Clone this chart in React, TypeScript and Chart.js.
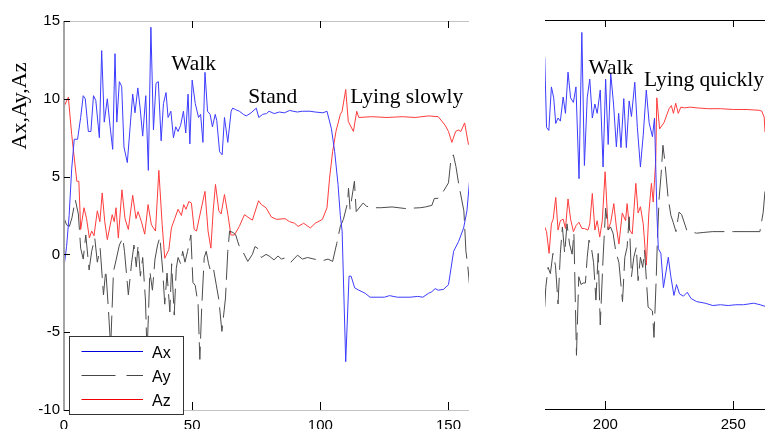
import React, { useEffect, useRef } from 'react';
import { Chart, registerables } from 'chart.js';

Chart.register(...registerables);

// ---------- tick labels ----------
const yTicks = [-10, -5, 0, 5, 10, 15];
const leftXTicks = [0, 50, 100, 150];
const rightXTicks = [200, 250];
const leftXRange = [0, 158];
const rightXRange = [176.4, 262.4];
const yRange = [-10, 15];

// ---------- series (sample index, value) : left panel ----------
const leftAx: [number, number][] = [
  [0, -0.8], [1, 0.5], [2, 2.5], [3, 5.5], [4, 7.4], [5.3, 7.4], [6.5, 8.8], [7.5, 10.2], [8.3, 10.0], [9.5, 7.9],
  [10.5, 7.9], [11.5, 10.2], [12.4, 9.9], [13.8, 7.5], [14.7, 13.1], [15.7, 8.5], [16.9, 10.0], [18, 8.2], [19, 6.75],
  [19.9, 12.9], [20.6, 8.5], [21.6, 11.1], [22.5, 10.8], [23.4, 6.9], [24.7, 5.9], [25.8, 8.2], [26.8, 10.3], [27.7, 9.1],
  [28.8, 10.7], [29.7, 9.4], [30.7, 7.6], [31.9, 10.2], [32.9, 5.4], [33.9, 14.6], [34.9, 8.0], [35.9, 11.0], [36.8, 11.1],
  [37.9, 7.3], [38.8, 9.7], [39.8, 10.4], [40.6, 8.8], [41.7, 9.2], [42.7, 7.5], [43.6, 8.2], [44.5, 7.9], [45.5, 8.3],
  [46.6, 9.2], [47.5, 7.8], [48.4, 10.3], [49.1, 7.1], [50, 11.2], [51.2, 9.7], [52.5, 8.8], [53.3, 9.0], [54.2, 7.2],
  [55, 11.7], [56, 9.2], [57, 9.0], [57.9, 8.2], [59, 9.0], [59.6, 8.6], [60.7, 6.6], [61.7, 6.4], [62.6, 8.8], [63.9, 7.2],
  [65.2, 9.2], [65.8, 9.4], [67, 9.3], [68.4, 9.2], [70, 9.0], [71.1, 8.9], [73, 9.1], [75, 9.4], [76, 8.8], [77.5, 9.0],
  [79, 9.05], [80, 9.2], [82, 9.05], [84, 9.15], [86, 9.1], [88, 9.25], [91, 9.15], [93, 9.2], [96, 9.2], [98, 9.15],
  [101, 9.1], [102.6, 9.2], [104.3, 8.1], [105.6, 6.6], [106.9, 4.5], [107.8, 2.5], [108.5, 1.5], [109.9, -6.9],
  [111.2, -1.4], [112, -1.4], [113.4, -2.15], [115, -2.3], [116.3, -2.4], [117.5, -2.5], [119.4, -2.75], [125, -2.75],
  [127, -2.65], [130, -2.75], [135, -2.75], [138, -2.7], [140, -2.75], [142.2, -2.5], [143.5, -2.4], [144.8, -2.2],
  [146, -2.3], [148, -2.25], [150, -1.95], [152, 0.2], [154, 0.85], [155.9, 1.7], [157.2, 2.8], [158.2, 4.7],
];

const leftAy: [number, number][] = [
  [0, 2.35], [1, 1.9], [2.1, 1.8], [3.1, 2.35], [4.4, 3.5], [5.6, 2.6], [6.5, 0.4], [7.5, -0.3], [8.5, 1.25], [9.8, -1.0],
  [10.8, 0.2], [12, 1.05], [13, -0.5], [14.1, 0.4], [15.4, -2.6], [16.3, -1.0], [17.3, -3.45], [18.2, -6.0], [19.3, -1.1],
  [20.4, -0.3], [21.6, 0.6], [22.9, 1.05], [23.6, 0.2], [25.1, -2.6], [26.4, -0.5], [27.3, 0.6], [28.2, -0.8], [28.9, 0.6],
  [29.8, -1.4], [30.7, -0.2], [31.8, -3.0], [32.4, -6.5], [33.5, -1.1], [34.5, -2.3], [35.5, -0.3], [36.5, 0.6],
  [37.4, 1.1], [38.5, -1.0], [39.3, -3.2], [40.2, -1.2], [41.3, -3.7], [42, -0.6], [43, -3.9], [43.8, -0.9], [44.5, -0.2],
  [45.5, -0.6], [46.3, 0.2], [47.2, -0.5], [48.2, 0.2], [49.5, 1.25], [50.3, -1.8], [51.2, -2.0], [52.3, -3.2],
  [53, -6.75], [53.7, -3.5], [54.7, -0.2], [55.5, 0.2], [56.4, -0.6], [57.4, -1.2], [58.4, -1.0], [59.4, -1.95],
  [60.4, -2.9], [61.6, -4.95], [63, -2.8], [63.9, 0.2], [64.6, 1.5], [66, 1.4], [67, 1.25], [68.2, 0.6], [70, 0.1],
  [71.7, -0.45], [73.5, 0.0], [74.5, 0.5], [75.5, 0.4], [77, -0.2], [78.8, 0.0], [80, -0.1], [81.9, -0.35], [83.5, -0.1],
  [84.8, -0.3], [86.7, -0.2], [88.5, -0.5], [91.1, -0.05], [93, -0.3], [95, -0.2], [97.5, -0.3], [101, -0.4], [103, -0.3],
  [104.8, -0.45], [106.4, 0.7], [107.8, 1.8], [109, 2.25], [110.6, 3.3], [111, 4.25], [111.6, 2.9], [113.3, 4.7],
  [114, 2.75], [116.7, 3.3], [118, 3.1], [120, 3.0], [123.6, 3.0], [128, 3.05], [133, 2.95], [139, 3.0], [141, 3.05],
  [143.5, 3.15], [144.5, 3.6], [145.9, 3.6], [148, 4.05], [150, 4.6], [151, 6.2], [151.9, 6.4], [152.9, 5.65], [154, 4.5],
  [156, 2.8], [156.8, 0.2], [157.5, -0.7], [158.2, -1.95],
];

const leftAz: [number, number][] = [
  [0, 9.5], [1.7, 10.1], [3, 7.7], [5, 4.7], [5.8, 4.7], [6.5, 1.6], [7.8, 3.0], [8.8, 2.3], [9.9, 1.05], [10.8, 1.5],
  [11.7, 1.2], [13, 2.8], [14, 2.1], [14.9, 3.95], [15.9, 2.1], [16.9, 0.95], [18.8, 2.55], [19.6, 2.1], [20.3, 3.0],
  [21.2, 1.05], [22.6, 4.15], [23.8, 2.3], [25.1, 1.6], [26.8, 3.8], [28.1, 2.3], [28.9, 2.75], [30.2, 2.1], [31.5, 1.3],
  [32.8, 3.2], [34.1, 1.9], [35.7, 1.5], [37, 5.4], [38.3, 1.9], [39.3, -0.25], [40.9, 0.3], [41.9, 1.7], [43.2, 2.3],
  [44.5, 2.9], [45.8, 2.5], [46.7, 3.2], [47.6, 2.9], [48.7, 3.4], [49.7, 3.3], [50.8, 1.6], [51.7, 1.5], [53.1, 2.6],
  [55, 4.05], [56.2, 1.5], [57.3, 0.4], [58.2, 2.8], [59.1, 4.5], [60.4, 2.8], [61.3, 2.6], [62.6, 3.85], [64, 2.5],
  [65.1, 1.25], [66.5, 1.25], [68.4, 1.8], [70.4, 2.55], [73.5, 2.2], [75.9, 3.45], [77, 3.2], [78.8, 3.0], [80.9, 2.4],
  [83, 2.25], [86.2, 2.3], [88, 2.1], [90, 2.0], [91.3, 1.8], [93.5, 2.0], [96.1, 1.7], [98, 2.0], [100.8, 2.25],
  [102.6, 3.0], [103.6, 4.9], [104.8, 6.6], [106.1, 7.9], [107.8, 9.0], [108.5, 9.2], [109.9, 10.6], [110.9, 8.55],
  [112.9, 7.9], [114.2, 9.2], [115, 8.8], [120, 8.85], [126, 8.8], [132, 8.85], [137, 8.8], [142.2, 8.9], [146, 8.85],
  [148.7, 8.3], [150, 7.9], [151.3, 7.2], [152.8, 7.9], [153.8, 8.0], [154.8, 7.9], [156.3, 8.45], [157.8, 7.05],
];

// ---------- series : right panel ----------
const rightAx: [number, number][] = [
  [176.3, 12.6], [177, 8.1], [177.9, 7.9], [178.9, 10.7], [179.8, 10.0], [180.6, 8.35], [181.5, 8.7], [182.4, 8.5],
  [183.5, 10.05], [184.4, 9.0], [185.4, 11.65], [186.4, 10.0], [187.5, 9.7], [188.5, 10.7], [189.7, 4.8], [190.8, 14.2],
  [191.8, 5.65], [192.9, 10.0], [193.9, 11.2], [194.9, 8.7], [195.9, 9.6], [196.8, 9.0], [198, 10.5], [199.1, 5.55],
  [200.1, 11.2], [201.1, 7.0], [202.1, 11.55], [203.2, 9.6], [204.3, 6.85], [205.2, 9.0], [206.1, 6.8], [207.2, 9.95],
  [208.2, 6.8], [209.3, 9.8], [210.2, 8.8], [211.5, 11.0], [212.5, 8.1], [213.7, 5.55], [214.8, 7.6], [216, 10.5],
  [217.1, 8.4], [218.4, 7.5], [219.2, 8.7], [220.2, 2.35], [220.7, 0.3], [221.7, 0.0], [222.7, -2.2], [224.6, -0.25],
  [225.6, -1.5], [226.8, -2.7], [227.8, -2.0], [229, -2.6], [230.5, -2.75], [232, -2.5], [233.5, -2.9], [235.7, -3.1],
  [239, -3.2], [242, -3.35], [245, -3.3], [248, -3.35], [251, -3.3], [254, -3.3], [258, -3.2], [260.5, -3.3],
  [262.4, -3.4],
];

const rightAy: [number, number][] = [
  [176.3, -3.45], [176.7, -2.2], [177.6, -0.9], [178.5, -1.3], [179.5, 0.0], [180.5, -0.8], [181.5, -3.25], [182.4, 0.0],
  [183.2, 1.7], [184.1, 0.0], [185, 1.9], [186, 0.6], [187, -0.05], [187.7, 1.3], [188.7, -6.55], [189.6, -1.5],
  [190.5, -2.0], [191.3, -1.9], [192.2, -1.9], [192.9, -0.25], [193.6, 0.85], [194.5, 0.4], [195.4, -0.6], [196.3, -3.0],
  [197.2, 0.0], [198, -4.6], [199.1, -0.3], [200.1, 2.9], [201.1, 1.5], [202, 1.7], [203, 1.3], [204, 0.2], [205.3, -0.6],
  [206.7, -3.1], [207.6, -0.25], [208.5, 0.4], [209.3, 2.35], [210.2, -1.5], [211.1, -0.25], [212.1, 0.4], [212.8, -1.75],
  [213.7, -0.25], [214.6, -0.9], [215.3, 0.2], [216.7, -3.45], [217.4, -3.55], [218.4, -3.7], [219, -5.4], [219.9, -1.5],
  [220.3, 0.7], [221, 3.5], [221.8, 5.1], [222.5, 6.95], [223.2, 6.0], [224.5, 3.6], [225.6, 2.45], [226.5, 2.0],
  [227.6, 1.4], [228.8, 2.65], [229.8, 2.5], [231.8, 1.5], [233, 1.4], [235.7, 1.3], [238.5, 1.35], [242, 1.4],
  [246.8, 1.4], [250, 1.4], [255, 1.4], [260.4, 1.4], [261.7, 2.65], [262.4, 4.0],
];

const rightAz: [number, number][] = [
  [176.3, 1.7], [177, 1.4], [178, 0.0], [178.9, 1.9], [179.6, 2.2], [180.6, 3.6], [181.5, 1.5], [182.4, 2.1], [183.5, 2.2],
  [184.4, 1.6], [185.4, 3.5], [186.4, 2.2], [187.5, 1.4], [188.6, 1.8], [189.7, 2.0], [190.8, 1.6], [191.8, 1.6],
  [193.2, 1.5], [193.9, 1.9], [194.9, 3.85], [195.9, 1.5], [196.8, 2.1], [197.8, 1.05], [198.8, 2.1], [199.9, 5.25],
  [201.1, 1.5], [202.1, 2.0], [203.3, 3.2], [204.3, 1.7], [205.3, 0.6], [206.6, 2.6], [207.9, 2.1], [208.5, 3.2],
  [209.5, 1.5], [210.5, 1.25], [211.9, 4.5], [212.8, 2.6], [213.7, 3.0], [214.8, 1.9], [216, -0.75], [217, 2.6], [218, 4.5],
  [218.7, 3.3], [219.7, 6.0], [220.1, 10.0], [221.2, 8.0], [222.9, 8.4], [224, 8.9], [224.9, 9.3], [225.8, 9.5],
  [226.6, 9.0], [227.5, 9.65], [228.5, 9.0], [229.5, 9.4], [231, 9.35], [233, 9.4], [236, 9.35], [240, 9.3], [245, 9.3],
  [250, 9.25], [255, 9.25], [260, 9.2], [261.1, 9.15], [262.1, 8.75], [262.4, 7.8],
];

// ---------- text labels (anchored in data units) ----------
const leftNotes: [string, number, number][] = [
  ['Walk', 41.8, 11.85],
  ['Stand', 71.9, 9.75],
  ['Lying slowly', 111.7, 9.73],
];
const rightNotes: [string, number, number][] = [
  ['Walk', 193.4, 11.53],
  ['Lying quickly', 215.1, 10.74],
];
const yTitle = 'Ax,Ay,Az';
const legendNames = ['Ax', 'Ay', 'Az'];

const BLUE = 'rgb(60,60,255)';
const RED = 'rgb(255,60,60)';
const GRAY = 'rgb(75,75,75)';
const SERIF = '21.5px "Liberation Serif", "Times New Roman", serif';
const SANS = '"Liberation Sans", Arial, sans-serif';

function toPts(a: [number, number][]) {
  return a.map(([x, y]) => ({ x, y }));
}

function seg(ctx: CanvasRenderingContext2D, x1: number, y1: number, x2: number, y2: number) {
  ctx.beginPath();
  ctx.moveTo(x1, y1);
  ctx.lineTo(x2, y2);
  ctx.stroke();
}

function datasets(ax: [number, number][], ay: [number, number][], az: [number, number][]) {
  return [
    { label: 'Ax', data: toPts(ax), borderColor: BLUE, borderWidth: 1, pointRadius: 0, tension: 0 },
    { label: 'Ay', data: toPts(ay), borderColor: GRAY, borderWidth: 1, pointRadius: 0, tension: 0, borderDash: [30, 8] },
    { label: 'Az', data: toPts(az), borderColor: RED, borderWidth: 1, pointRadius: 0, tension: 0 },
  ];
}

function drawNotes(chart: any, notes: [string, number, number][]) {
  const { ctx, scales } = chart;
  ctx.save();
  ctx.fillStyle = '#000';
  ctx.font = SERIF;
  ctx.textAlign = 'left';
  ctx.textBaseline = 'alphabetic';
  for (const [t, x, y] of notes) {
    ctx.fillText(t, scales.x.getPixelForValue(x), scales.y.getPixelForValue(y));
  }
  ctx.restore();
}

const leftFrame = {
  id: 'leftFrame',
  afterDatasetsDraw(chart: any) {
    const { ctx, chartArea: a, scales } = chart;
    ctx.save();
    ctx.lineWidth = 1;
    ctx.strokeStyle = '#c2c2c2';
    seg(ctx, a.left, a.top + 0.5, a.right, a.top + 0.5);
    seg(ctx, a.left, a.bottom + 0.5, a.right, a.bottom + 0.5);
    ctx.strokeStyle = '#a4a4a4';
    ctx.lineWidth = 2;
    seg(ctx, a.left, a.top, a.left, a.bottom + 1);
    ctx.lineWidth = 1;
    ctx.strokeStyle = '#000';
    for (const v of leftXTicks) {
      if (v === leftXRange[0]) continue;
      const px = Math.round(scales.x.getPixelForValue(v)) + 0.5;
      seg(ctx, px, a.top, px, a.top + 7);
      seg(ctx, px, a.bottom, px, a.bottom - 8);
    }
    for (const v of yTicks) {
      const py = Math.round(scales.y.getPixelForValue(v)) + 0.5;
      seg(ctx, a.left, py, a.left + 6, py);
    }
    ctx.restore();

    drawNotes(chart, leftNotes);

    // y-axis title
    ctx.save();
    ctx.fillStyle = '#000';
    ctx.font = '22px "Liberation Serif", "Times New Roman", serif';
    ctx.translate(26, 106);
    ctx.rotate(-Math.PI / 2);
    ctx.textAlign = 'center';
    ctx.textBaseline = 'alphabetic';
    ctx.fillText(yTitle, 0, 0);
    ctx.restore();

    // legend
    ctx.save();
    const bx = a.left + 5.5, by = 336.5, bw = 114, bh = 78;
    ctx.fillStyle = '#fff';
    ctx.fillRect(bx, by, bw, bh);
    ctx.strokeStyle = '#333';
    ctx.lineWidth = 1;
    ctx.strokeRect(bx, by, bw, bh);
    const legendColors = ['rgb(0,0,220)', 'rgb(70,70,70)', 'rgb(240,0,0)'];
    const rows = [351.5, 375.5, 399.5];
    ctx.font = '16px ' + SANS;
    ctx.textAlign = 'left';
    ctx.textBaseline = 'alphabetic';
    legendNames.forEach((name, i) => {
      ctx.strokeStyle = legendColors[i];
      ctx.setLineDash(i === 1 ? [34, 11] : []);
      seg(ctx, bx + 12, rows[i], bx + 73.5, rows[i]);
      ctx.setLineDash([]);
      ctx.fillStyle = '#000';
      ctx.fillText(name, bx + 82.5, rows[i] + 6);
    });
    ctx.restore();
  },
};

const rightFrame = {
  id: 'rightFrame',
  afterDatasetsDraw(chart: any) {
    const { ctx, chartArea: a, scales } = chart;
    ctx.save();
    ctx.lineWidth = 1;
    ctx.strokeStyle = '#000';
    seg(ctx, a.left, a.top + 0.5, a.right, a.top + 0.5);
    seg(ctx, a.left, a.bottom + 0.5, a.right, a.bottom + 0.5);
    for (const v of rightXTicks) {
      const px = Math.round(scales.x.getPixelForValue(v)) + 0.5;
      seg(ctx, px, a.top, px, a.top + 7);
      seg(ctx, px, a.bottom, px, a.bottom - 8);
    }
    ctx.restore();
    drawNotes(chart, rightNotes);
  },
};

function baseOptions(xr: number[], xt: number[], pad: any, xHeight: number, showY: boolean) {
  return {
    animation: false,
    responsive: false,
    events: [],
    layout: { padding: pad },
    plugins: { legend: { display: false }, tooltip: { enabled: false } },
    scales: {
      x: {
        type: 'linear',
        min: xr[0],
        max: xr[1],
        afterBuildTicks: (s: any) => {
          s.ticks = xt.map((v) => ({ value: v }));
        },
        afterFit: (s: any) => {
          s.height = xHeight;
        },
        grid: { display: false, drawTicks: false },
        border: { display: false },
        ticks: { color: '#000', font: { family: SANS, size: 15 }, padding: 7, maxRotation: 0, autoSkip: false },
      },
      y: {
        type: 'linear',
        display: showY,
        min: yRange[0],
        max: yRange[1],
        afterBuildTicks: (s: any) => {
          s.ticks = yTicks.map((v) => ({ value: v }));
        },
        afterFit: (s: any) => {
          if (showY) s.width = 64;
        },
        grid: { display: false, drawTicks: false },
        border: { display: false },
        ticks: { color: '#000', font: { family: SANS, size: 15 }, padding: 4, autoSkip: false },
      },
    },
  };
}

export default function App() {
  const leftRef = useRef<HTMLCanvasElement>(null);
  const rightRef = useRef<HTMLCanvasElement>(null);

  useEffect(() => {
    const c1 = new Chart(leftRef.current as HTMLCanvasElement, {
      type: 'line',
      data: { datasets: datasets(leftAx, leftAy, leftAz) as any },
      options: baseOptions(leftXRange, leftXTicks, { left: 0, top: 21, right: 11, bottom: 0 }, 35, true) as any,
      plugins: [leftFrame],
    });
    const c2 = new Chart(rightRef.current as HTMLCanvasElement, {
      type: 'line',
      data: { datasets: datasets(rightAx, rightAy, rightAz) as any },
      options: baseOptions(rightXRange, rightXTicks, { left: 65, top: 20, right: 0, bottom: 0 }, 36, false) as any,
      plugins: [rightFrame],
    });
    return () => {
      c1.destroy();
      c2.destroy();
    };
  }, []);

  return (
    <div
      style={{
        position: 'fixed',
        left: 0,
        top: 0,
        width: 765,
        height: 429,
        overflow: 'hidden',
        background: '#fff',
      }}
    >
      <canvas ref={leftRef} width={480} height={445} style={{ position: 'absolute', left: 0, top: 0, width: 480, height: 445 }} />
      <canvas ref={rightRef} width={285} height={445} style={{ position: 'absolute', left: 480, top: 0, width: 285, height: 445 }} />
    </div>
  );
}
